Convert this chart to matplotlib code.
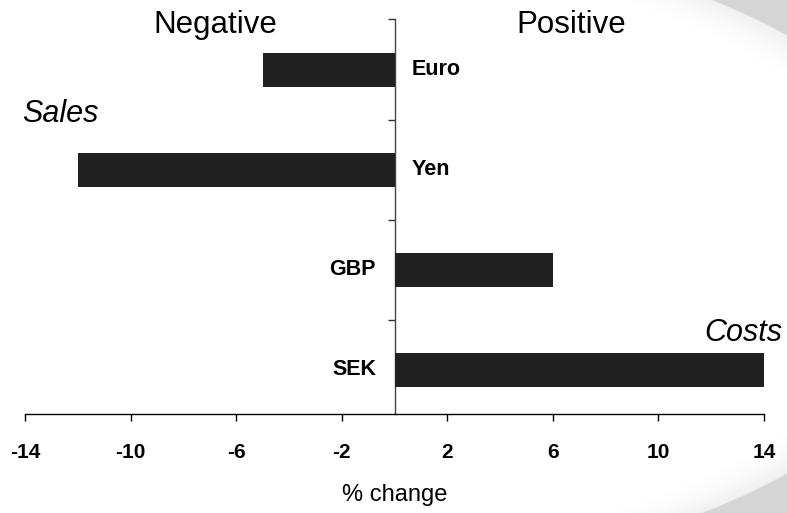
import numpy as np
import matplotlib.pyplot as plt
from matplotlib.transforms import blended_transform_factory

plt.rcParams['font.family'] = ['Liberation Sans', 'DejaVu Sans']

currencies = ['Euro', 'Yen', 'GBP', 'SEK']
change = [-5, -12, 6, 14]
xticks = [-14, -10, -6, -2, 2, 6, 10, 14]

fig = plt.figure(figsize=(7.87, 5.13), dpi=100)

# grey backdrop with a large white oval over most of it
bg = fig.add_axes([0, 0, 1, 1], zorder=-10)
h, w = 513, 787
yy, xx = np.mgrid[0:h, 0:w]
d = np.sqrt(((xx - 200) / 760.0) ** 2 + ((yy - 254) / 343.0) ** 2)
inner = 1 - 0.06 * np.clip((d - 0.90) / 0.10, 0, 1) ** 2
edge = np.clip((d - 1.0) / 0.004, 0, 1)
shade = inner * (1 - edge) + 0.835 * edge
bg.imshow(shade, cmap='gray', vmin=0, vmax=1, aspect='auto', interpolation='bilinear')
bg.axis('off')

ax = fig.add_axes([25 / 787, 1 - 414 / 513, 739 / 787, 394.5 / 513])
ax.patch.set_alpha(0)

ypos = np.arange(len(currencies))
ax.barh(ypos, change, height=0.34, color='#202020', zorder=3)

ax.set_xlim(-14, 14)
ax.set_ylim(3.445, -0.5)

for s in ['top', 'right']:
    ax.spines[s].set_visible(False)
ax.spines['left'].set_position(('data', 0))
ax.spines['left'].set_color('#444444')
ax.spines['left'].set_linewidth(1)
ax.spines['bottom'].set_linewidth(1)

ax.set_yticks(ypos - 0.5)
ax.set_yticklabels([])
ax.tick_params(axis='y', length=5, width=1, color='#333333')

ax.set_xticks(xticks)
ax.set_xticklabels([str(t) for t in xticks], fontsize=15, fontweight='bold')
ax.tick_params(axis='x', length=5, width=1, pad=16)
ax.set_xlabel('% change', fontsize=17, labelpad=16)

# currency names sit on the opposite side of the zero line
for y, name, v in zip(ypos, currencies, change):
    if v < 0:
        ax.text(0.65, y, name, ha='left', va='center', fontsize=15.5, fontweight='bold')
    else:
        ax.text(-0.7, y, name, ha='right', va='center', fontsize=15.5, fontweight='bold')

tr = blended_transform_factory(ax.transData, ax.transAxes)
ax.text(-6.8, 0.966, 'Negative', transform=tr, ha='center', va='baseline', fontsize=22.5)
ax.text(6.7, 0.966, 'Positive', transform=tr, ha='center', va='baseline', fontsize=22.5)
ax.text(-14.1, 0.74, 'Sales', transform=tr, ha='left', va='baseline', fontsize=22,
        style='italic', clip_on=False)
ax.text(14.7, 0.185, 'Costs', transform=tr, ha='right', va='baseline', fontsize=22,
        style='italic', clip_on=False)

fig.savefig('out.png', dpi=100)
